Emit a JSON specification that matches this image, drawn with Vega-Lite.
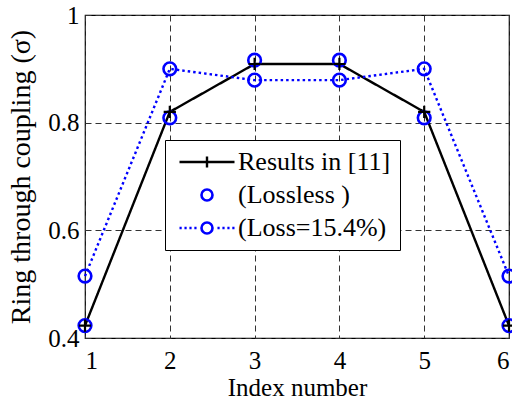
{
  "$schema": "https://vega.github.io/schema/vega-lite/v6.json",
  "autosize": "none",
  "width": 424,
  "height": 323,
  "padding": {"left": 85, "top": 15, "right": 3, "bottom": 65},
  "background": "white",
  "config": {
    "font": "Liberation Serif",
    "view": {"stroke": "black", "strokeWidth": 1.2},
    "axis": {
      "labelFont": "Liberation Serif",
      "labelFontSize": 25,
      "labelColor": "black",
      "titleFont": "Liberation Serif",
      "titleFontSize": 25,
      "titleFontWeight": "normal",
      "titleColor": "black",
      "domain": false,
      "ticks": false,
      "grid": true,
      "gridColor": "#333333",
      "gridDash": [6, 4],
      "gridWidth": 1
    }
  },
  "data": {
    "values": [
      {"series": "Results in [11]", "x": 1, "y": 0.423},
      {"series": "Results in [11]", "x": 2, "y": 0.82},
      {"series": "Results in [11]", "x": 3, "y": 0.909},
      {"series": "Results in [11]", "x": 4, "y": 0.909},
      {"series": "Results in [11]", "x": 5, "y": 0.82},
      {"series": "Results in [11]", "x": 6, "y": 0.423},
      {"series": "(Lossless )", "x": 1, "y": 0.423},
      {"series": "(Lossless )", "x": 2, "y": 0.809},
      {"series": "(Lossless )", "x": 3, "y": 0.916},
      {"series": "(Lossless )", "x": 4, "y": 0.916},
      {"series": "(Lossless )", "x": 5, "y": 0.809},
      {"series": "(Lossless )", "x": 6, "y": 0.423},
      {"series": "(Loss=15.4%)", "x": 1, "y": 0.515},
      {"series": "(Loss=15.4%)", "x": 2, "y": 0.9},
      {"series": "(Loss=15.4%)", "x": 3, "y": 0.879},
      {"series": "(Loss=15.4%)", "x": 4, "y": 0.879},
      {"series": "(Loss=15.4%)", "x": 5, "y": 0.9},
      {"series": "(Loss=15.4%)", "x": 6, "y": 0.515}
    ]
  },
  "encoding": {
    "x": {
      "field": "x", "type": "quantitative",
      "scale": {"domain": [1, 6], "nice": false, "zero": false},
      "axis": {"values": [1, 2, 3, 4, 5, 6], "format": "d", "title": "Index number", "titleFontSize": 25, "labelPadding": 10, "titlePadding": 2}
    },
    "y": {
      "field": "y", "type": "quantitative",
      "scale": {"domain": [0.4, 1], "nice": false, "zero": false},
      "axis": {"values": [0.4, 0.6, 0.8, 1], "labelExpr": "datum.value == 1 ? '1' : format(datum.value, '.1f')", "title": "Ring through coupling  (σ)", "titleFontSize": 28, "labelPadding": 6, "titlePadding": 12}
    },
    "color": {
      "field": "series", "type": "nominal",
      "scale": {"domain": ["Results in [11]", "(Lossless )", "(Loss=15.4%)"], "range": ["black", "#0000ff", "#0000ff"]},
      "legend": {
        "title": null,
        "orient": "none",
        "legendX": 80,
        "legendY": 125,
        "direction": "vertical",
        "fillColor": "white",
        "strokeColor": "black",
        "padding": 9,
        "rowPadding": 7,
        "symbolSize": 3025,
        "symbolStrokeWidth": 2.5,
        "symbolType": "circle",
        "symbolOffset": 20,
        "labelFont": "Liberation Serif",
        "labelFontSize": 26,
        "labelColor": "black",
        "labelOffset": 18,
        "encode": {
          "symbols": {
            "update": {
              "shape": {"signal": "datum.value === 'Results in [11]' ? 'M-1,0H1M0,-0.2V0.2' : datum.value === '(Lossless )' ? 'M-0.2,0A0.2,0.2 0 1,0 0.2,0A0.2,0.2 0 1,0 -0.2,0Z' : 'M-1,0H-0.92M-0.82,0H-0.74M-0.64,0H-0.56M-0.46,0H-0.38M0.38,0H0.46M0.56,0H0.64M0.74,0H0.82M0.92,0H1M-0.2,0A0.2,0.2 0 1,0 0.2,0A0.2,0.2 0 1,0 -0.2,0Z'"},
              "fill": {"value": "transparent"},
              "strokeWidth": {"signal": "datum.value === 'Results in [11]' ? 2.4 : 2.6"}
            }
          }
        }
      }
    }
  },
  "layer": [
    {
      "transform": [{"filter": "datum.series != '(Lossless )'"}],
      "mark": {"type": "line", "strokeWidth": 2.4},
      "encoding": {
        "strokeDash": {
          "field": "series", "type": "nominal",
          "scale": {"domain": ["Results in [11]", "(Loss=15.4%)"], "range": [[1, 0], [2.5, 3]]},
          "legend": null
        }
      }
    },
    {
      "transform": [{"filter": "datum.series != 'Results in [11]'"}],
      "mark": {"type": "point", "filled": false, "shape": "circle", "size": 160, "strokeWidth": 2.6, "opacity": 1}
    },
    {
      "transform": [{"filter": "datum.series == 'Results in [11]'"}],
      "mark": {"type": "point", "filled": false, "shape": "M-1,0H1M0,-1V1", "size": 150, "strokeWidth": 2.2, "opacity": 1}
    }
  ]
}
